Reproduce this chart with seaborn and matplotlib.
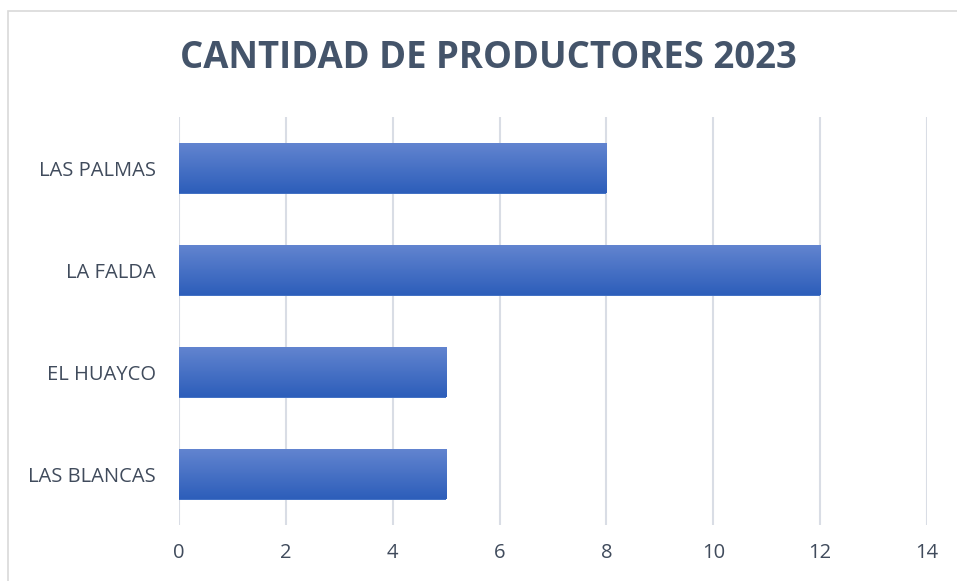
import matplotlib
matplotlib.use("Agg")
import matplotlib.pyplot as plt
import seaborn as sns
import numpy as np
import pandas as pd
from matplotlib.colors import LinearSegmentedColormap
from matplotlib.patches import Rectangle

categories = ["LAS PALMAS", "LA FALDA", "EL HUAYCO", "LAS BLANCAS"]
values = [8, 12, 5, 5]
xticks = [0, 2, 4, 6, 8, 10, 12, 14]
title = "CANTIDAD DE PRODUCTORES 2023"

df = pd.DataFrame({"cat": categories, "val": values})

sns.set_theme(style="white")
plt.rcParams['font.family'] = ['Open Sans', 'DejaVu Sans']

fig = plt.figure(figsize=(9.57, 5.81), dpi=100)
ax = fig.add_axes([179/957, 1-525/581, 748/957, 408/581])

sns.barplot(data=df, x="val", y="cat", ax=ax, orient="h", width=0.5,
            color="#4472C4", saturation=1, linewidth=0, edgecolor="none")

cmap = LinearSegmentedColormap.from_list("g", ["#6385D0", "#2D5EBA"])
grad = np.linspace(0, 1, 256).reshape(-1, 1)
for p in list(ax.patches):
    x0, y0 = p.get_x(), p.get_y()
    w, h = p.get_width(), p.get_height()
    im = ax.imshow(grad, cmap=cmap, aspect="auto",
                   extent=[x0, x0 + w, y0 + h, y0], zorder=p.get_zorder() + 0.1,
                   origin="upper")
    im.set_clip_path(p)

ax.set_xlim(0, 14)
ax.set_ylim(3.5, -0.5)
ax.set_xticks(xticks)
ax.set_xticklabels([str(t) for t in xticks])
ax.set_xlabel("")
ax.set_ylabel("")
ax.grid(axis="x", color="#D9DDE5", linewidth=1.5)
ax.set_axisbelow(True)
for s in ax.spines.values():
    s.set_visible(False)
ax.tick_params(axis="both", length=0, labelsize=14.5, labelcolor="#404B5C")
ax.tick_params(axis="y", pad=16.5)
ax.tick_params(axis="x", pad=13)

fig.text(488/957, 1-58/581, title, ha="center", va="center", fontsize=26.3,
         fontweight="bold", color="#44546A")

fig.patches.append(Rectangle((8/957, -0.05), 1.0, 1-11/581+0.05,
                             transform=fig.transFigure, fill=False,
                             edgecolor="#D9D9D9", linewidth=1.2))

fig.savefig("out.png", dpi=100)
